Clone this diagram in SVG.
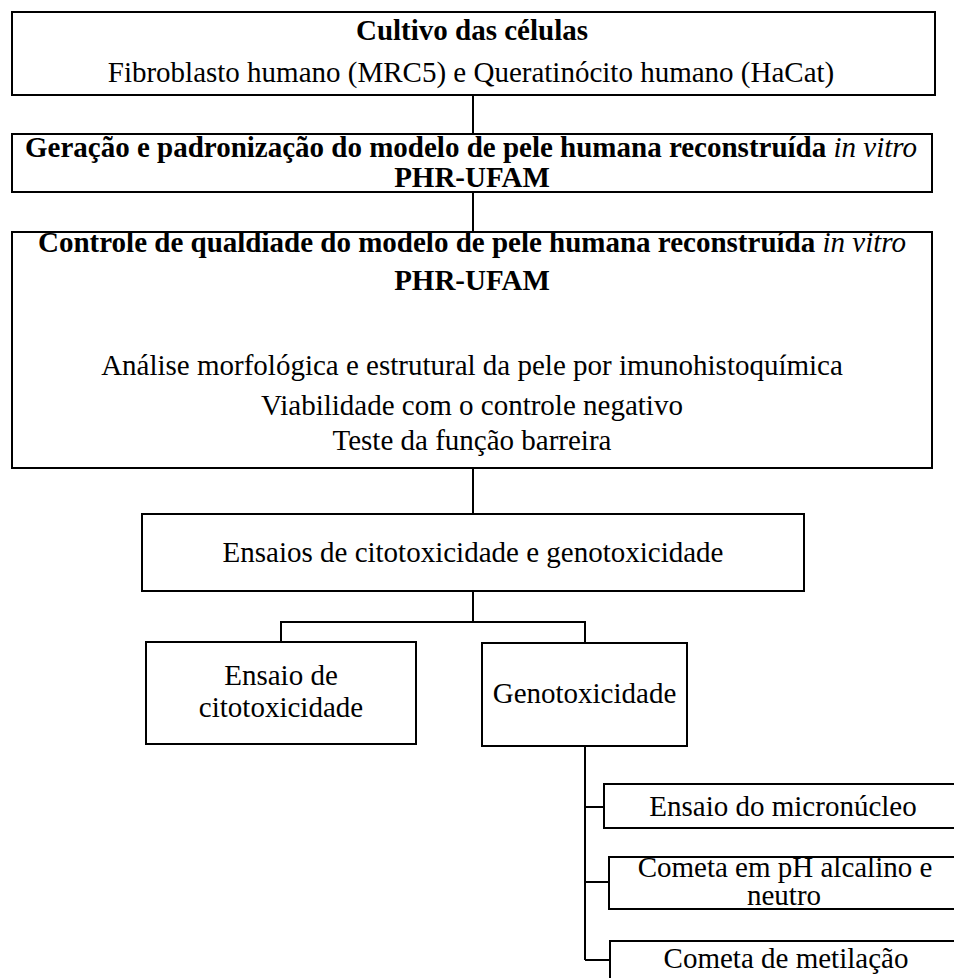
<svg xmlns="http://www.w3.org/2000/svg" width="954" height="978" viewBox="0 0 954 978">
<style>
.box{fill:#fff;stroke:#000;stroke-width:2}
.t{font-family:"Liberation Serif","Times New Roman",serif;font-size:29px;fill:#000;text-anchor:middle}
.b{font-weight:bold}
.i{font-style:italic;font-weight:normal}
.c{fill:none;stroke:#000;stroke-width:2}
</style>
<rect width="954" height="978" fill="#fff"/>
<g id="connectors">
<path class="c" d="M473 95V134"/>
<path class="c" d="M473 192V232"/>
<path class="c" d="M473 468V514"/>
<path class="c" d="M473 591V622H281V642M473 622H585V643"/>
<path class="c" d="M585 746V960M585 807H604M585 882H609M585 960H610"/>
</g>
<g id="n1">
<rect class="box" x="12" y="12" width="923" height="83"/>
<text class="t b" x="472" y="40">Cultivo das células</text>
<text class="t" x="471" y="82">Fibroblasto humano (MRC5) e Queratinócito humano (HaCat)</text>
</g>
<g id="n2">
<rect class="box" x="12" y="134" width="920" height="58"/>
<text class="t b" x="471" y="157">Geração e padronização do modelo de pele humana reconstruída <tspan class="i">in vitro</tspan></text>
<text class="t b" x="472" y="187">PHR-UFAM</text>
</g>
<g id="n3">
<rect class="box" x="12" y="232" width="920" height="236"/>
<text class="t b" x="472" y="252">Controle de qualdiade do modelo de pele humana reconstruída <tspan class="i">in vitro</tspan></text>
<text class="t b" x="472" y="290">PHR-UFAM</text>
<text class="t" x="472" y="375">Análise morfológica e estrutural da pele por imunohistoquímica</text>
<text class="t" x="472" y="415">Viabilidade com o controle negativo</text>
<text class="t" x="472" y="450">Teste da função barreira</text>
</g>
<g id="n4">
<rect class="box" x="142" y="514" width="662" height="77"/>
<text class="t" x="473" y="562">Ensaios de citotoxicidade e genotoxicidade</text>
</g>
<g id="n5">
<rect class="box" x="146" y="642" width="270" height="102"/>
<text class="t" x="281" y="685">Ensaio de</text>
<text class="t" x="281" y="717">citotoxicidade</text>
</g>
<g id="n6">
<rect class="box" x="482" y="643" width="205" height="103"/>
<text class="t" x="584.5" y="703">Genotoxicidade</text>
</g>
<g id="n7">
<rect class="box" x="604" y="784" width="370" height="44"/>
<text class="t" x="783" y="816">Ensaio do micronúcleo</text>
</g>
<g id="n8">
<rect class="box" x="609" y="857" width="370" height="52"/>
<text class="t" x="785" y="877">Cometa em pH alcalino e</text>
<text class="t" x="784" y="905">neutro</text>
</g>
<g id="n9">
<rect class="box" x="610" y="941" width="370" height="60"/>
<text class="t" x="786" y="968">Cometa de metilação</text>
</g>
</svg>
